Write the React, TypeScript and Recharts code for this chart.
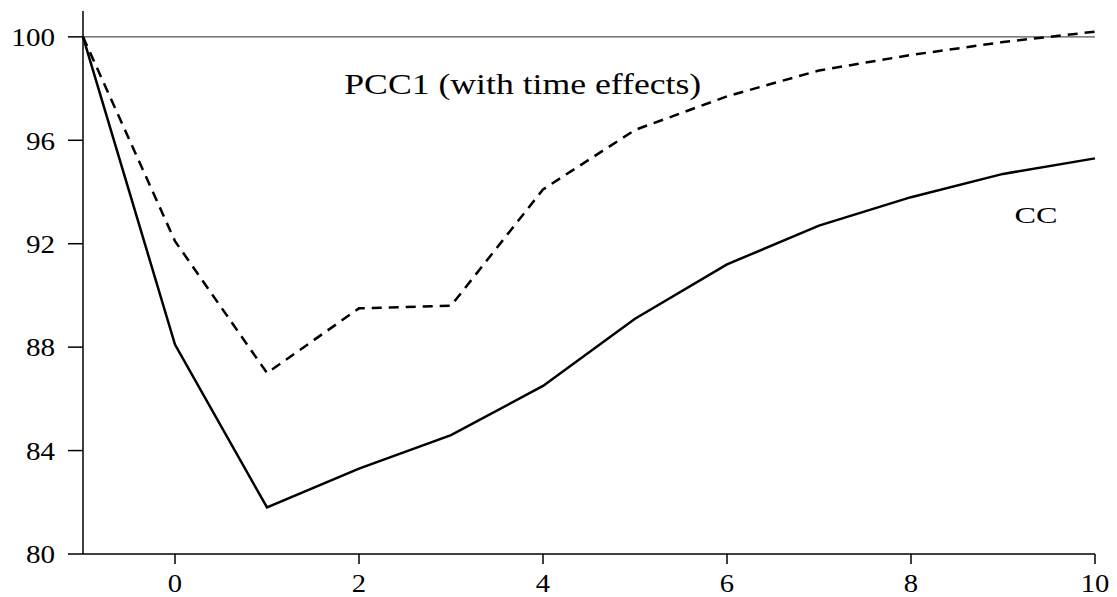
import React from 'react';
import { LineChart, Line, XAxis, YAxis, ReferenceLine, ReferenceDot } from 'recharts';

// horizon (periods after shock)
const periods = [-1, 0, 1, 2, 3, 4, 5, 6, 7, 8, 9, 10];
const ccValues = [100, 88.1, 81.8, 83.3, 84.6, 86.5, 89.1, 91.2, 92.7, 93.8, 94.7, 95.3];
const pcc1Values = [100, 92.1, 87.0, 89.5, 89.6, 94.1, 96.4, 97.7, 98.7, 99.3, 99.8, 100.2];
const xTicks = [0, 2, 4, 6, 8, 10];
const yTicks = [80, 84, 88, 92, 96, 100];

const FONT = "'Liberation Serif', 'Times New Roman', serif";

const data = periods.map((p, i) => ({ period: p, cc: ccValues[i], pcc1: pcc1Values[i] }));

// the original print uses a slightly wide serif, so stretch ticks a bit
const XTick = (props: any) => {
  const { x, y, payload } = props;
  return (
    <text
      transform={`translate(${x},${y}) scale(1.1,1)`}
      textAnchor="middle"
      dy="0.71em"
      fontFamily={FONT}
      fontSize={26}
      fill="#000"
    >
      {payload.value}
    </text>
  );
};

const YTick = (props: any) => {
  const { x, y, payload } = props;
  return (
    <text
      transform={`translate(${x},${y}) scale(1.12,1)`}
      textAnchor="end"
      dy="0.355em"
      fontFamily={FONT}
      fontSize={26}
      fill="#000"
    >
      {payload.value}
    </text>
  );
};

const textLabel = (text: string, size: number, len: number) => (props: any) => {
  const { viewBox } = props;
  const cx = viewBox.x + viewBox.width / 2;
  const cy = viewBox.y + viewBox.height / 2;
  return (
    <text
      x={cx - len / 2}
      y={cy}
      dy="0.34em"
      textLength={len}
      lengthAdjust="spacingAndGlyphs"
      fontFamily={FONT}
      fontSize={size}
      fill="#000"
    >
      {text}
    </text>
  );
};

export default function App() {
  return (
    <div style={{ position: 'absolute', left: 0, top: 0, background: '#fff' }}>
      <LineChart width={1117} height={597} data={data} margin={{ top: 11, right: 22, bottom: 0, left: 0 }}>
        <XAxis
          dataKey="period"
          type="number"
          domain={[-1, 10]}
          ticks={xTicks}
          height={43}
          stroke="#000"
          strokeWidth={1.5}
          tickSize={10}
          tickMargin={10}
          tick={<XTick />}
        />
        <YAxis
          type="number"
          domain={[80, 101]}
          ticks={yTicks}
          width={83}
          stroke="#000"
          strokeWidth={1.5}
          tickSize={15}
          tickMargin={13}
          tick={<YTick />}
        />
        <ReferenceLine y={100} stroke="#555" strokeWidth={1.2} />
        <Line
          dataKey="pcc1"
          stroke="#000"
          strokeWidth={2.5}
          strokeDasharray="10 7"
          dot={false}
          isAnimationActive={false}
        />
        <Line dataKey="cc" stroke="#000" strokeWidth={2.5} dot={false} isAnimationActive={false} />
        <ReferenceDot x={3.78} y={98.16} r={0} fill="none" stroke="none" label={textLabel('PCC1 (with time effects)', 29, 357)} />
        <ReferenceDot x={9.36} y={93.1} r={0} fill="none" stroke="none" label={textLabel('CC', 24, 43)} />
      </LineChart>
    </div>
  );
}
